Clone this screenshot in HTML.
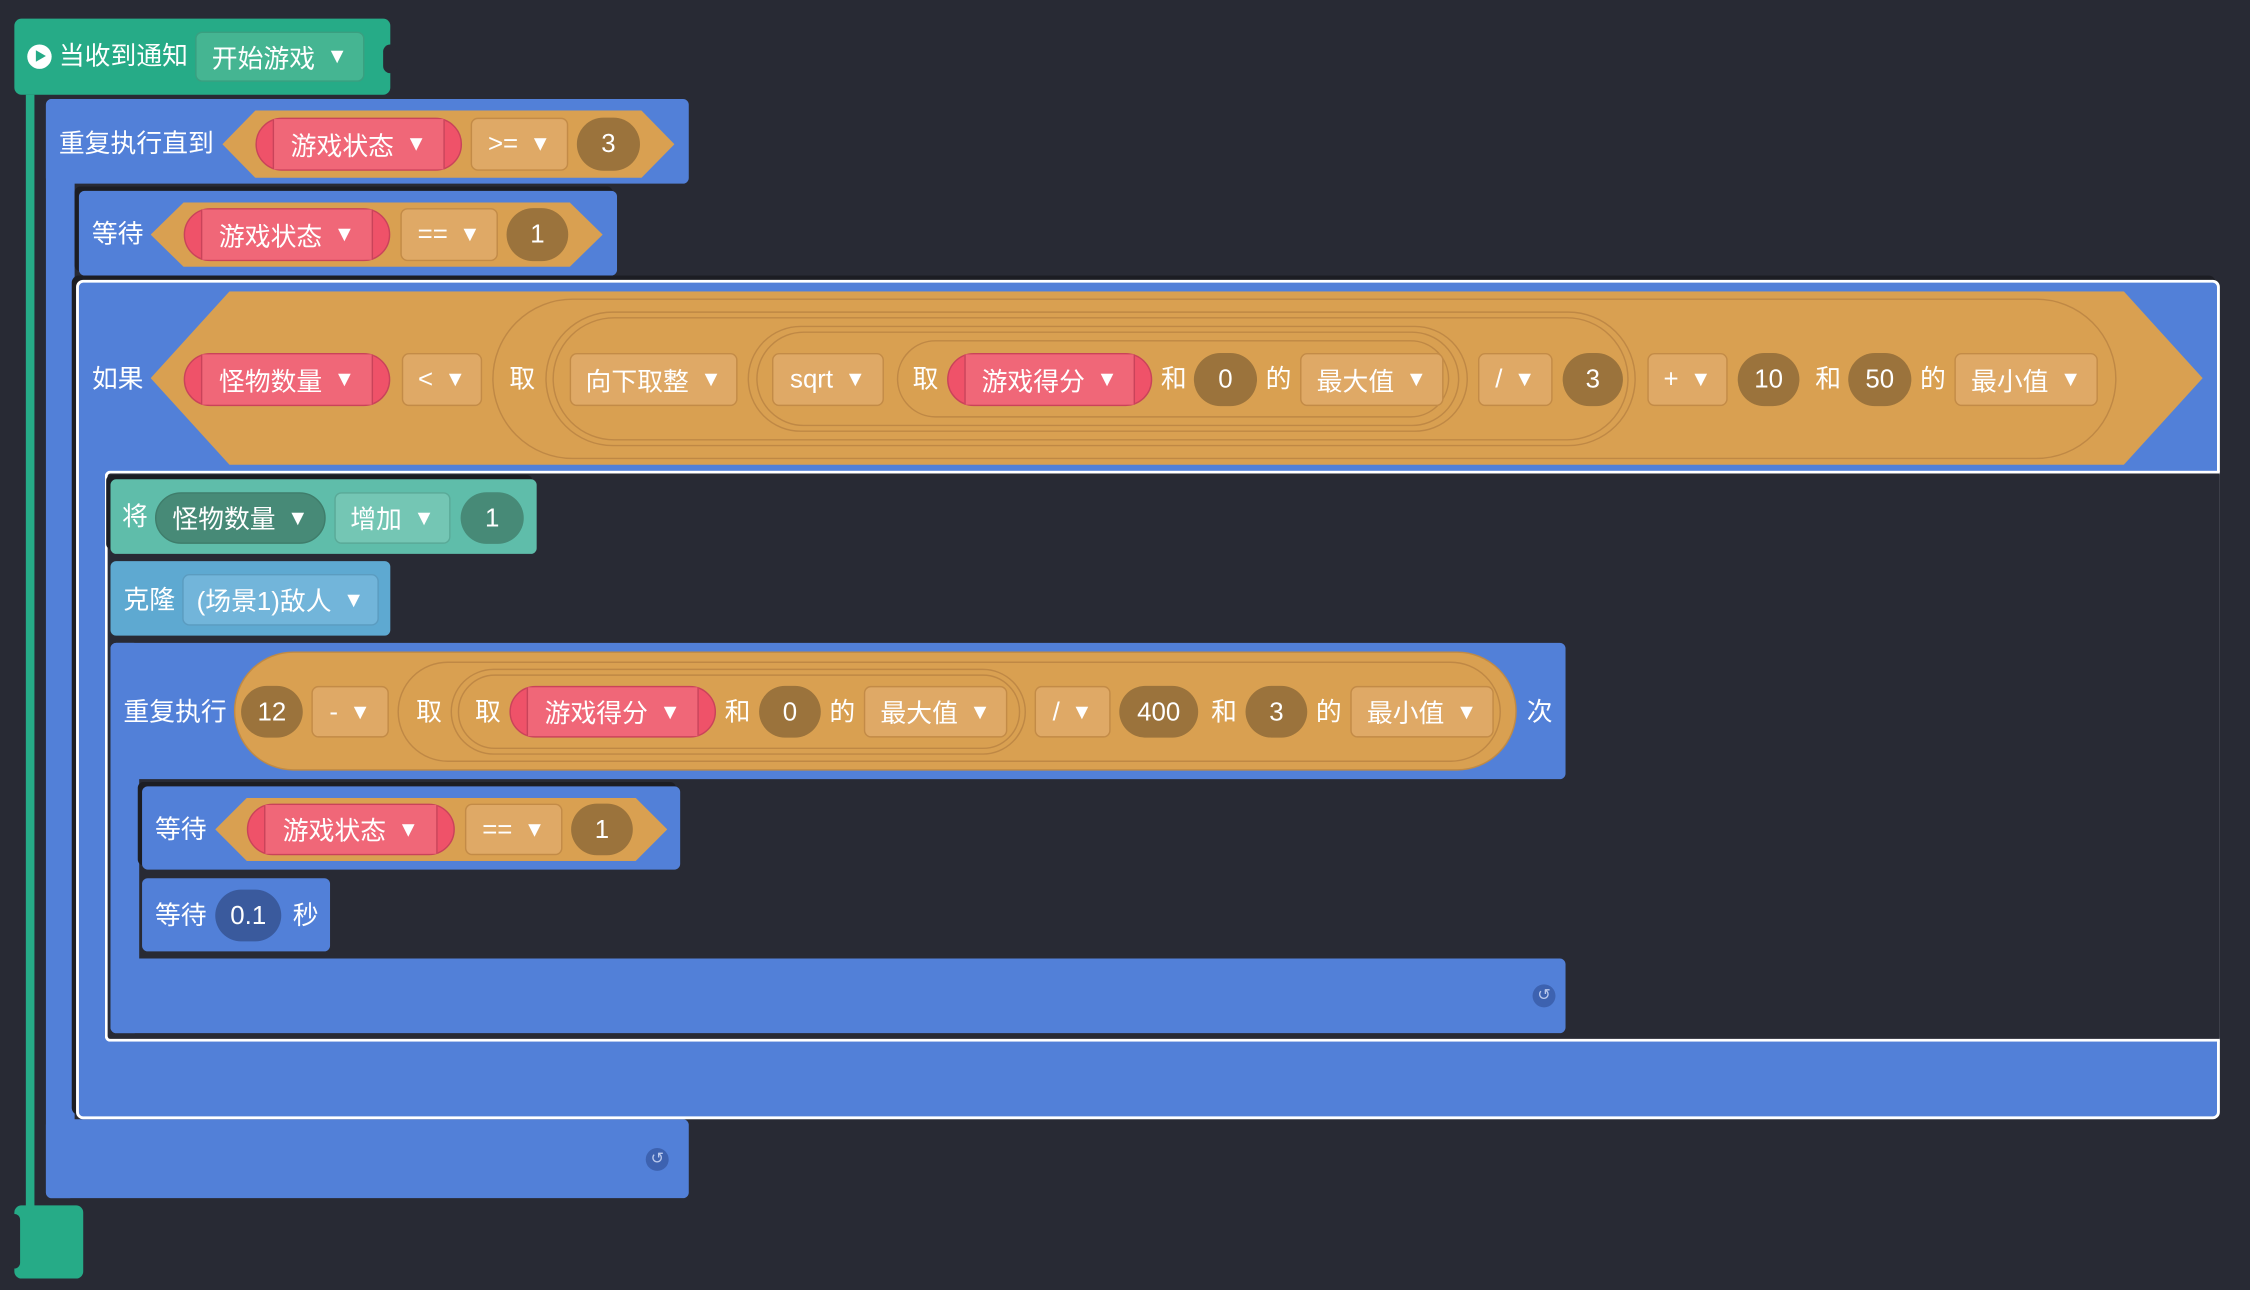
<!DOCTYPE html>
<html><head><meta charset="utf-8"><style>
html,body{margin:0;padding:0;width:2250px;height:1290px;overflow:hidden;background:#282a34}
#s{position:absolute;left:0;top:0;width:1568px;height:899px;transform:scale(1.43495);transform-origin:0 0;font-family:"Liberation Sans","Noto Sans CJK SC",sans-serif}
.a{position:absolute;box-sizing:border-box}
.bl{position:absolute;background:#5280d8;border-radius:4px}
.lb{position:absolute;color:#fff;font-size:18px;line-height:24px;white-space:nowrap}
.bx{position:absolute;display:flex;align-items:center;justify-content:center;color:#fff;font-size:18px;border-radius:5px;background:#dfa966;border:1px solid #c38b47;box-sizing:border-box;white-space:nowrap}
.nm{background:#9b733c;border:none;border-radius:999px}
.rp{background:#ef5269;border:1px solid #c9435a;border-radius:999px}
.rp i{position:absolute;left:11px;right:11px;top:0;bottom:0;background:#f06778;border-left:1px solid #c9435a;border-right:1px solid #c9435a}
.rp b{position:relative;font-weight:normal}
.ar{font-size:15px;margin-left:8px;position:relative}
.ring{position:absolute;border:1px solid #bf8845;border-radius:999px;box-sizing:border-box}
.hex{position:absolute;background:#d9a051}
.sh{box-shadow:-3px -3px 0 #1c1d23}
.ic{position:absolute;width:16px;height:16px;border-radius:50%;background:#3d62b0;color:#b9c8ec;font-size:11px;line-height:16px;text-align:center}
</style></head><body><div id="s">

<!-- hat -->
<div class="a" style="left:10px;top:13px;width:262px;height:53px;background:#26ab87;border-radius:5px"></div>
<div class="a" style="left:267px;top:31px;width:10px;height:20px;background:#282a34;border-radius:5px"></div>
<div class="a" style="left:19px;top:31px;width:17px;height:17px;border-radius:50%;background:#fff"></div>
<div class="a" style="left:25px;top:35px;width:0;height:0;border-left:7px solid #26ab87;border-top:4.5px solid transparent;border-bottom:4.5px solid transparent"></div>
<div class="lb" style="left:41px;top:27px">当收到通知</div>
<div class="bx" style="left:136px;top:22px;width:118px;height:35px;background:#45b592;border-color:#3a9f80">开始游戏<span class="ar">▼</span></div>
<div class="a" style="left:18px;top:66px;width:6px;height:776px;background:#26ab87"></div>
<div class="a" style="left:10px;top:840px;width:48px;height:51px;background:#26ab87;border-radius:5px"></div>
<div class="a" style="left:6px;top:846px;width:8px;height:38px;background:#282a34;border-radius:4px"></div>

<!-- repeat until -->
<div class="bl" style="left:32px;top:69px;width:448px;height:59px"></div>
<div class="bl" style="left:32px;top:69px;width:20px;height:766px"></div>
<div class="bl" style="left:32px;top:780px;width:448px;height:55px"></div>
<div class="ic" style="left:450px;top:800px">↺</div>
<div class="lb" style="left:41px;top:88px">重复执行直到</div>
<div class="hex" style="left:155px;top:77px;width:315px;height:47px;clip-path:polygon(23px 0,calc(100% - 23px) 0,100% 50%,calc(100% - 23px) 100%,23px 100%,0 50%)"></div>
<div class="bx rp" style="left:178px;top:82px;width:144px;height:37px"><i></i><b>游戏状态</b><span class="ar">▼</span></div>
<div class="bx" style="left:328px;top:82px;width:68px;height:37px">&gt;=<span class="ar">▼</span></div>
<div class="bx nm" style="left:402px;top:82px;width:44px;height:37px">3</div>

<!-- wait 1 -->
<div class="bl sh" style="left:55px;top:133px;width:375px;height:59px"></div>
<div class="lb" style="left:64px;top:151px">等待</div>
<div class="hex" style="left:105px;top:141px;width:315px;height:45px;clip-path:polygon(23px 0,calc(100% - 23px) 0,100% 50%,calc(100% - 23px) 100%,23px 100%,0 50%)"></div>
<div class="bx rp" style="left:128px;top:145px;width:144px;height:37px"><i></i><b>游戏状态</b><span class="ar">▼</span></div>
<div class="bx" style="left:279px;top:145px;width:68px;height:37px">==<span class="ar">▼</span></div>
<div class="bx nm" style="left:353px;top:145px;width:43px;height:37px">1</div>

<!-- if -->
<div class="a sh" style="left:53px;top:195px;width:1494px;height:585px;background:#5280d8;border:2px solid #fff;border-radius:5px"></div>
<div class="a" style="left:73px;top:328px;width:1474px;height:398px;background:#282a34;border:2px solid #fff;border-right:none;border-radius:4px 0 0 4px"></div>
<div class="lb" style="left:64px;top:252px">如果</div>
<div class="hex" style="left:105px;top:203px;width:1430px;height:121px;clip-path:polygon(55px 0,calc(100% - 55px) 0,100% 50%,calc(100% - 55px) 100%,55px 100%,0 50%)"></div>
<div class="bx rp" style="left:128px;top:246px;width:144px;height:37px"><i></i><b>怪物数量</b><span class="ar">▼</span></div>
<div class="bx" style="left:280px;top:246px;width:56px;height:37px">&lt;<span class="ar">▼</span></div>
<div class="ring" style="left:343px;top:208px;width:1132px;height:112px"></div>
<div class="lb" style="left:355px;top:252px">取</div>
<div class="ring" style="left:380px;top:217px;width:760px;height:94px"></div>
<div class="ring" style="left:385px;top:221px;width:750px;height:86px"></div>
<div class="bx" style="left:397px;top:246px;width:117px;height:37px">向下取整<span class="ar">▼</span></div>
<div class="ring" style="left:521px;top:227px;width:502px;height:74px"></div>
<div class="ring" style="left:527px;top:231px;width:490px;height:66px"></div>
<div class="bx" style="left:538px;top:246px;width:78px;height:37px">sqrt<span class="ar">▼</span></div>
<div class="ring" style="left:625px;top:237px;width:385px;height:54px"></div>
<div class="lb" style="left:636px;top:252px">取</div>
<div class="bx rp" style="left:660px;top:246px;width:143px;height:37px"><i></i><b>游戏得分</b><span class="ar">▼</span></div>
<div class="lb" style="left:809px;top:252px">和</div>
<div class="bx nm" style="left:832px;top:246px;width:44px;height:37px">0</div>
<div class="lb" style="left:882px;top:252px">的</div>
<div class="bx" style="left:906px;top:246px;width:100px;height:37px">最大值<span class="ar">▼</span></div>
<div class="bx" style="left:1030px;top:246px;width:52px;height:37px">/<span class="ar">▼</span></div>
<div class="bx nm" style="left:1089px;top:246px;width:42px;height:37px">3</div>
<div class="bx" style="left:1148px;top:246px;width:56px;height:37px">+<span class="ar">▼</span></div>
<div class="bx nm" style="left:1211px;top:246px;width:43px;height:37px">10</div>
<div class="lb" style="left:1265px;top:252px">和</div>
<div class="bx nm" style="left:1288px;top:246px;width:44px;height:37px">50</div>
<div class="lb" style="left:1338px;top:252px">的</div>
<div class="bx" style="left:1362px;top:246px;width:100px;height:37px">最小值<span class="ar">▼</span></div>

<!-- set var -->
<div class="a sh" style="left:77px;top:334px;width:297px;height:52px;background:#5fbdaa;border-radius:4px"></div>
<div class="lb" style="left:85px;top:348px">将</div>
<div class="bx" style="left:108px;top:343px;width:119px;height:36px;background:#478a77;border-color:#3f7d6b;border-radius:18px">怪物数量<span class="ar">▼</span></div>
<div class="bx" style="left:233px;top:343px;width:81px;height:36px;background:#74c6b4;border-color:#5aaa98">增加<span class="ar">▼</span></div>
<div class="bx nm" style="left:321px;top:343px;width:44px;height:36px;background:#478a77">1</div>

<!-- clone -->
<div class="a" style="left:77px;top:391px;width:195px;height:52px;background:#5ea9d1;border-radius:4px"></div>
<div class="lb" style="left:86px;top:406px">克隆</div>
<div class="bx" style="left:127px;top:400px;width:137px;height:36px;background:#72b5da;border-color:#5b9cc0">(场景1)敌人<span class="ar">▼</span></div>

<!-- repeat n -->
<div class="bl" style="left:77px;top:448px;width:1014px;height:95px"></div>
<div class="bl" style="left:77px;top:448px;width:20px;height:272px"></div>
<div class="bl" style="left:77px;top:668px;width:1014px;height:52px"></div>
<div class="ic" style="left:1068px;top:686px">↺</div>
<div class="lb" style="left:86px;top:484px">重复执行</div>
<div class="a" style="left:163px;top:454px;width:894px;height:83px;background:#d9a051;border:1px solid #c08a45;border-radius:42px"></div>
<div class="bx nm" style="left:168px;top:478px;width:43px;height:36px">12</div>
<div class="bx" style="left:217px;top:478px;width:54px;height:36px">-<span class="ar">▼</span></div>
<div class="ring" style="left:277px;top:461px;width:769px;height:70px"></div>
<div class="lb" style="left:290px;top:484px">取</div>
<div class="ring" style="left:314px;top:466px;width:401px;height:60px"></div>
<div class="ring" style="left:319px;top:470px;width:392px;height:52px"></div>
<div class="lb" style="left:331px;top:484px">取</div>
<div class="bx rp" style="left:355px;top:478px;width:144px;height:36px"><i></i><b>游戏得分</b><span class="ar">▼</span></div>
<div class="lb" style="left:505px;top:484px">和</div>
<div class="bx nm" style="left:529px;top:478px;width:43px;height:36px">0</div>
<div class="lb" style="left:578px;top:484px">的</div>
<div class="bx" style="left:602px;top:478px;width:100px;height:36px">最大值<span class="ar">▼</span></div>
<div class="bx" style="left:721px;top:478px;width:53px;height:36px">/<span class="ar">▼</span></div>
<div class="bx nm" style="left:780px;top:478px;width:55px;height:36px">400</div>
<div class="lb" style="left:844px;top:484px">和</div>
<div class="bx nm" style="left:868px;top:478px;width:43px;height:36px">3</div>
<div class="lb" style="left:917px;top:484px">的</div>
<div class="bx" style="left:941px;top:478px;width:100px;height:36px">最小值<span class="ar">▼</span></div>
<div class="lb" style="left:1064px;top:484px">次</div>

<!-- wait 2 -->
<div class="bl sh" style="left:99px;top:548px;width:375px;height:58px"></div>
<div class="lb" style="left:108px;top:566px">等待</div>
<div class="hex" style="left:150px;top:556px;width:315px;height:44px;clip-path:polygon(22px 0,calc(100% - 22px) 0,100% 50%,calc(100% - 22px) 100%,22px 100%,0 50%)"></div>
<div class="bx rp" style="left:172px;top:560px;width:145px;height:36px"><i></i><b>游戏状态</b><span class="ar">▼</span></div>
<div class="bx" style="left:324px;top:560px;width:68px;height:36px">==<span class="ar">▼</span></div>
<div class="bx nm" style="left:398px;top:560px;width:43px;height:36px">1</div>

<!-- wait 0.1 -->
<div class="bl" style="left:99px;top:612px;width:131px;height:51px"></div>
<div class="lb" style="left:108px;top:626px">等待</div>
<div class="bx nm" style="left:150px;top:620px;width:46px;height:36px;background:#3a5a9d">0.1</div>
<div class="lb" style="left:204px;top:626px">秒</div>

</div></body></html>
